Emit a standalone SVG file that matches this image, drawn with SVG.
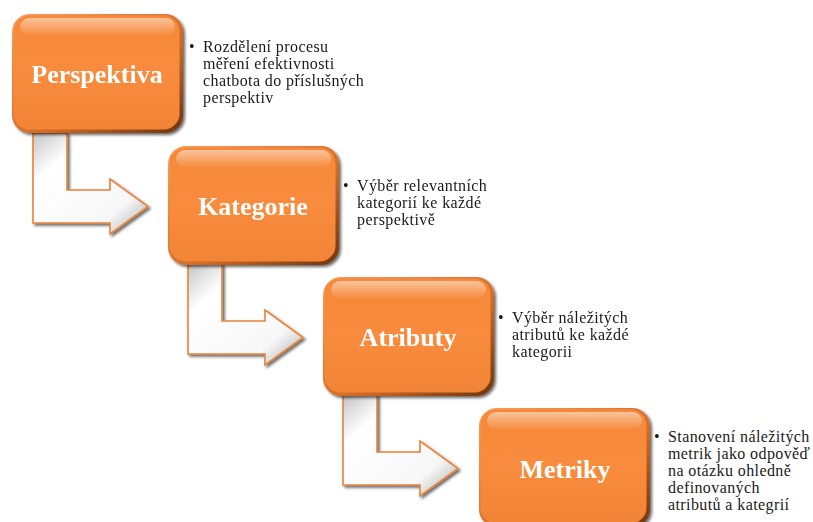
<svg xmlns="http://www.w3.org/2000/svg" width="813" height="522" viewBox="0 0 813 522">
  <defs>
    <linearGradient id="boxFill" x1="0" y1="0" x2="0" y2="1">
      <stop offset="0" stop-color="#F6883A"/>
      <stop offset="0.5" stop-color="#F88B3C"/>
      <stop offset="1" stop-color="#F28436"/>
    </linearGradient>
    <linearGradient id="boxGloss" x1="0" y1="0" x2="0" y2="1">
      <stop offset="0" stop-color="#FFFFFF" stop-opacity="0.5"/>
      <stop offset="1" stop-color="#FFFFFF" stop-opacity="0"/>
    </linearGradient>
    <linearGradient id="edgeShade" x1="0" y1="0" x2="1" y2="1">
      <stop offset="0" stop-color="#F9A060"/>
      <stop offset="0.6" stop-color="#D26A24"/>
      <stop offset="1" stop-color="#6E340E"/>
    </linearGradient>
    <linearGradient id="arrowFill" x1="0" y1="0" x2="1" y2="1">
      <stop offset="0" stop-color="#C4C4C4"/>
      <stop offset="0.25" stop-color="#FFFFFF"/>
      <stop offset="0.75" stop-color="#F7F7F7"/>
      <stop offset="1" stop-color="#A8A8A8"/>
    </linearGradient>
    <filter id="shadow" x="-10%" y="-10%" width="125%" height="125%">
      <feGaussianBlur in="SourceAlpha" stdDeviation="1.5"/>
      <feOffset dx="2" dy="2" result="b"/>
      <feComponentTransfer><feFuncA type="linear" slope="0.6"/></feComponentTransfer>
      <feMerge><feMergeNode/><feMergeNode in="SourceGraphic"/></feMerge>
    </filter>
    <g id="box">
      <rect x="0" y="0" width="171" height="119" rx="18" fill="url(#edgeShade)"/>
      <rect x="1.5" y="1.5" width="166" height="114" rx="16" fill="url(#boxFill)"/>
      <rect x="8" y="4" width="155" height="18" rx="9" fill="url(#boxGloss)"/>
    </g>
    <path id="bent" d="M33,133 L67,133 L67,190 L110,190 L110,179 L148,206.5 L110,234 L110,223 L33,223 Z"/>
  </defs>
  <style>
    .title { font-family: "Liberation Serif", "Times New Roman", serif; font-weight: bold; font-size: 26px; fill: #FFFFFF; text-anchor: middle; }
    .note { font-family: "Liberation Serif", "Times New Roman", serif; font-size: 16px; letter-spacing: 0.4px; fill: #1A1A1A; }
    .arrow { fill: url(#arrowFill); stroke: #E8823A; stroke-width: 1.6; stroke-linejoin: miter; }
  </style>

  <!-- bent connectors between stages -->
  <g id="connectors" filter="url(#shadow)">
    <use href="#bent" class="arrow"/>
    <use href="#bent" class="arrow" transform="translate(155,131)"/>
    <use href="#bent" class="arrow" transform="translate(310,262)"/>
  </g>

  <g id="perspektiva">
    <use href="#box" x="12" y="14" filter="url(#shadow)"/>
    <text class="title" x="97" y="83">Perspektiva</text>
    <text class="note"><tspan x="189" y="52">•</tspan><tspan x="203" y="52">Rozdělení procesu</tspan><tspan x="203" y="69">měření efektivnosti</tspan><tspan x="203" y="86">chatbota do příslušných</tspan><tspan x="203" y="103">perspektiv</tspan></text>
  </g>

  <g id="kategorie">
    <use href="#box" x="168" y="146" filter="url(#shadow)"/>
    <text class="title" x="253" y="215">Kategorie</text>
    <text class="note"><tspan x="343" y="191">•</tspan><tspan x="357" y="191">Výběr relevantních</tspan><tspan x="357" y="208">kategorií ke každé</tspan><tspan x="357" y="225">perspektivě</tspan></text>
  </g>

  <g id="atributy">
    <use href="#box" x="323" y="277" filter="url(#shadow)"/>
    <text class="title" x="408" y="346">Atributy</text>
    <text class="note"><tspan x="498" y="323">•</tspan><tspan x="512" y="323">Výběr náležitých</tspan><tspan x="512" y="340">atributů ke každé</tspan><tspan x="512" y="357">kategorii</tspan></text>
  </g>

  <g id="metriky">
    <use href="#box" x="479" y="408" filter="url(#shadow)"/>
    <text class="title" x="565" y="478">Metriky</text>
    <text class="note"><tspan x="654" y="442">•</tspan><tspan x="668" y="442">Stanovení náležitých</tspan><tspan x="668" y="459">metrik jako odpověď</tspan><tspan x="668" y="476">na otázku ohledně</tspan><tspan x="668" y="493">definovaných</tspan><tspan x="668" y="510">atributů a kategrií</tspan></text>
  </g>
</svg>
